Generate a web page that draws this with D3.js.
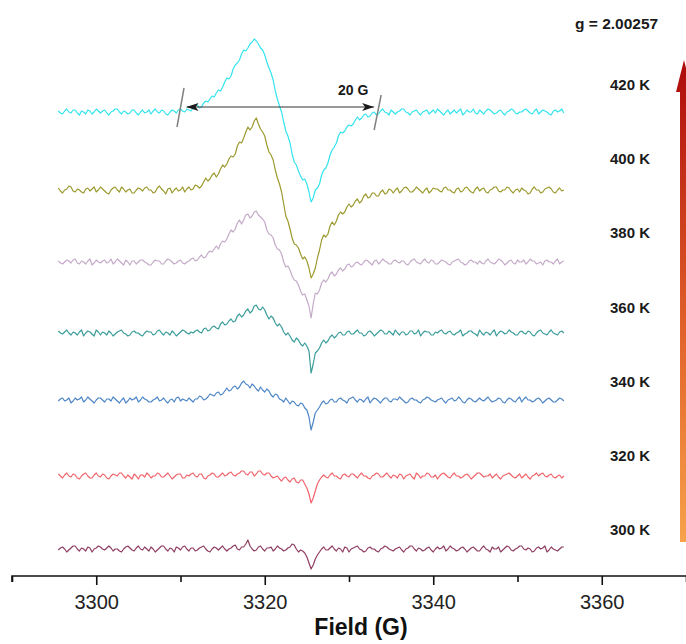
<!DOCTYPE html>
<html>
<head>
<meta charset="utf-8">
<script src="https://cdn.jsdelivr.net/npm/d3@7"></script>
<style>
  html, body { margin: 0; padding: 0; background: #fff; }
  svg { display: block; font-family: "Liberation Sans", Arial, Helvetica, sans-serif; }
</style>
</head>
<body>
<svg id="chart" width="686" height="644"></svg>
<script>
// ---- data -------------------------------------------------------------
// Temperatures of the recorded spectra (bottom to top)
const temperatures = ["300 K", "320 K", "340 K", "360 K", "380 K", "400 K", "420 K"];

// Vertical stacking offset of each spectrum (intensity units)
const offsets = [27, 100, 176, 243, 314, 386, 464];

// Field sweep: first field and field step (G)
const fieldStart = 3295.5;
const fieldStep = 0.25;

// First-derivative EPR signal of each temperature (intensity units),
// 20 samples (5 G) per row
const s300 = [
  -1,1,2,0,-3,-1,1,3,3,0,-2,1,0,-2,2,1,-3,0,1,3,
  2,0,-1,1,3,1,-2,0,0,-2,-3,0,2,3,1,-1,-2,1,3,0,
  -1,2,0,-2,2,0,-3,-1,1,3,3,0,-2,1,0,-3,2,1,-1,2,
  3,0,-2,1,1,-2,-1,1,2,3,0,-2,-3,0,2,1,-1,1,3,0,
  -2,0,1,3,4,0,-1,2,2,5,9,3,0,-2,-1,2,3,0,-2,1,
  1,2,-2,0,3,1,0,-2,-1,1,2,5,4,0,-3,-1,-2,-4,-8,-14,
  -20,-16,-10,-6,-3,0,2,-1,-1,1,3,0,-2,1,0,-3,2,1,-3,0,
  1,2,3,0,-1,-3,-2,1,2,0,0,-2,-3,0,1,3,2,0,-1,-2,
  0,1,2,-1,-3,0,1,3,3,0,-2,1,0,-2,-1,1,2,-1,-3,0,
  2,0,1,3,-2,0,3,1,0,-2,-1,1,2,0,-3,-1,1,2,0,-2,
  -2,1,3,0,-1,-3,2,0,0,2,-3,-1,1,3,2,-1,-2,0,1,3,
  3,0,-1,1,0,-3,-2,1,2,0,1,3,-3,-1,2,0,-1,-2,0,2,
  2
];
const s320 = [
  2,0,-2,1,3,0,-1,2,1,-2,-3,0,2,3,0,-2,-2,1,3,0,
  -1,2,1,-2,-3,0,2,1,0,3,3,0,-2,1,-1,-3,2,0,-3,1,
  1,-1,3,1,-2,0,0,3,2,-1,-1,1,3,0,-3,-1,1,2,2,-2,
  -2,1,0,2,3,0,-1,2,2,-2,-3,0,1,3,2,-1,-1,1,3,0,
  1,3,4,1,0,2,3,5,5,2,1,4,4,0,2,5,5,2,1,3,
  3,0,-2,-1,0,-3,-5,-2,-1,-4,-6,-3,-2,-6,-7,-4,-4,-8,-12,-18,
  -27,-22,-15,-8,-4,-1,1,-1,-2,1,3,0,0,-2,-3,1,2,0,-1,2,
  2,0,-2,1,3,0,0,-2,-3,0,1,3,2,-1,-1,1,3,0,-2,1,
  0,-2,2,1,-3,0,1,2,-1,-3,3,1,-2,0,0,3,2,-1,-1,1,
  -3,0,2,3,1,-1,-2,1,3,0,0,-2,-1,1,2,0,-3,-1,1,3,
  3,1,-1,0,0,2,-2,0,2,-1,-3,0,1,2,3,1,-1,-2,0,2,
  -2,0,2,-1,-3,0,1,3,0,2,3,0,-1,1,2,-1,-2,0,1,-2,
  0
];
const s340 = [
  -1,1,2,-1,0,2,-3,-1,2,0,1,3,-2,0,3,1,-1,-3,0,2,
  2,0,-2,1,1,-1,3,1,-1,-3,0,2,-3,-1,2,0,1,3,-2,0,
  3,1,0,-2,-2,0,1,3,-1,0,2,-1,-3,0,1,-2,2,3,-1,1,
  0,-1,2,0,-2,1,1,4,3,0,1,3,6,5,4,7,8,5,6,9,
  12,9,10,13,14,11,13,17,19,16,15,12,16,14,11,9,13,10,8,11,
  9,5,3,6,5,1,0,-2,2,-1,-4,-1,-2,-5,-6,-3,-4,-8,-10,-17,
  -30,-22,-13,-10,-7,-3,-1,-4,-3,0,1,-2,-2,1,2,0,-1,-3,1,2,
  3,0,-2,1,0,-2,1,3,-3,0,2,1,-1,-3,0,2,2,-1,-2,1,
  1,0,3,1,-1,-3,-2,1,2,0,0,-2,-3,0,1,3,2,0,-1,-2,
  0,1,2,-1,-3,0,1,2,-1,0,3,1,-2,-3,0,2,1,-1,-2,0,
  2,0,-1,1,3,0,-2,-1,0,2,1,-2,-3,0,2,1,-1,-2,1,3,
  -2,1,3,0,0,-2,-1,1,2,0,-3,-1,1,2,0,-2,-2,0,2,1,
  -1
];
const s360 = [
  2,0,-1,1,3,0,-2,1,0,-2,1,3,-3,0,2,1,-1,-3,3,1,
  -2,1,0,-2,2,0,-3,-1,1,2,3,0,-1,-3,-2,1,2,0,0,-2,
  -3,0,2,1,1,-2,-1,2,3,0,-2,1,0,-2,2,0,-3,-1,1,3,
  2,0,-1,1,0,2,3,1,0,4,5,2,3,6,7,5,4,9,11,8,
  9,12,14,11,12,17,19,16,18,22,24,20,22,27,28,24,23,26,23,18,
  14,17,15,10,7,9,6,1,-2,0,-3,-7,-9,-5,-7,-11,-13,-10,-13,-18,
  -40,-31,-20,-18,-15,-10,-7,-10,-8,-4,-2,-5,-3,0,1,-2,-2,1,2,-1,
  -1,1,3,0,0,-3,-2,1,2,0,-3,-1,1,3,2,-1,-1,2,0,-2,
  3,0,-2,1,1,-2,-1,2,2,-1,0,3,-3,0,2,1,1,-2,-2,1,
  0,2,3,0,-1,1,2,-1,-2,0,1,3,-3,-1,0,2,2,0,-1,-3,
  3,0,-2,1,0,-2,1,3,-3,0,2,1,-1,0,3,1,0,-2,-2,1,
  2,0,-1,2,1,-2,-3,0,2,3,0,-1,-2,1,3,0,-1,-2,1,2,
  0
];
const s380 = [
  1,-1,-2,0,2,1,-1,2,3,-1,-2,1,0,-2,1,3,-3,-1,2,0,
  -1,1,2,-1,0,3,-2,0,3,1,-1,-3,2,0,-3,1,1,-2,0,2,
  2,0,-1,-3,-3,0,2,1,1,-2,-2,1,3,2,0,-2,-1,1,2,-1,
  -2,0,1,3,4,1,2,5,7,4,5,9,11,10,13,16,13,18,21,20,
  23,28,32,30,33,39,42,38,42,47,48,44,46,50,51,47,45,43,40,32,
  28,27,24,17,13,12,8,0,-5,-4,-8,-14,-18,-19,-23,-29,-33,-32,-38,-44,
  -56,-42,-31,-32,-28,-21,-18,-20,-17,-12,-10,-14,-12,-8,-6,-9,-7,-3,-2,-5,
  -4,-1,0,-2,-3,0,2,1,-1,-3,1,2,-2,0,3,1,0,-2,-2,1,
  2,0,-1,1,1,-2,-3,0,2,3,0,-1,-2,1,3,0,-1,2,1,-2,
  -2,0,2,1,0,-2,-3,0,1,2,3,0,-1,-3,-2,1,2,0,0,-2,
  1,-1,-2,1,3,0,-1,-2,0,3,2,0,-3,-1,1,2,-1,-2,2,0,
  0,2,-2,0,3,1,1,-2,-1,0,-3,1,2,0,0,-2,1,3,-2,0,
  1
];
const s400 = [
  2,-1,-3,0,1,4,3,-1,-2,1,0,-2,-3,1,2,-1,1,3,-2,0,
  3,1,-1,-3,-4,0,2,3,0,-2,3,1,-2,0,1,-3,-3,0,2,1,
  -1,2,3,0,0,-3,-2,2,4,1,-1,-4,1,2,-3,0,2,-1,0,3,
  -2,1,3,0,1,5,4,2,4,8,12,9,11,15,17,13,16,21,25,23,
  26,31,34,33,36,44,48,47,52,58,63,60,63,69,72,66,61,58,54,45,
  38,35,30,20,12,6,-2,-14,-26,-31,-39,-48,-54,-55,-58,-64,-69,-67,-71,-78,
  -88,-84,-78,-68,-60,-50,-45,-47,-44,-36,-32,-35,-31,-25,-22,-24,-22,-17,-14,-17,
  -15,-11,-9,-13,-11,-6,-4,-8,-7,-3,-3,-6,-6,-2,0,-4,-3,1,0,-3,
  0,2,-3,-1,2,3,1,-2,-2,0,3,1,-1,-3,0,2,-3,-1,2,1,
  1,-1,-2,2,3,0,0,-2,-3,1,2,-2,-1,2,3,0,-2,-3,1,3,
  -1,1,2,-2,-3,0,1,3,3,-1,-2,0,0,3,2,-1,-3,0,1,-2,
  2,0,-1,-4,-3,1,3,0,0,-3,-2,1,2,3,1,-2,-3,0,2,-1,
  0
];
const s420 = [
  1,-1,-2,1,3,0,-1,2,2,-1,-3,1,0,-2,2,1,-2,0,3,1,
  -1,1,2,-1,-3,0,1,3,3,0,-2,1,0,-2,-1,2,2,-1,-3,0,
  2,-1,0,2,-2,1,3,0,-1,2,1,-2,-3,0,2,1,-1,2,3,1,
  0,3,2,1,4,6,7,4,5,9,11,10,13,16,15,19,22,21,25,30,
  34,33,36,43,47,49,52,58,62,61,64,68,70,73,71,68,64,62,57,50,
  44,39,32,21,13,6,0,-10,-19,-24,-31,-42,-50,-53,-59,-64,-68,-67,-72,-80,
  -90,-86,-78,-76,-72,-63,-58,-56,-51,-43,-38,-35,-31,-24,-20,-21,-19,-15,-13,-14,
  -12,-8,-5,-8,-6,-3,-2,-5,-4,-1,0,-3,-2,1,3,0,-1,-3,2,0,
  -2,0,1,3,3,0,-1,-3,0,1,2,-1,-3,0,1,2,-2,0,2,-1,
  3,1,-1,-3,0,2,-2,0,2,-1,1,3,-3,-1,2,0,0,3,-1,-2,
  2,0,-2,1,3,2,0,-2,-1,1,2,-1,-3,0,1,3,2,-1,-2,0,
  0,2,3,1,-1,-2,1,3,-2,0,2,1,0,-2,-3,1,2,0,1,3,
  -1
];
const spectra = [s300, s320, s340, s360, s380, s400, s420];

// Axis ticks (G)
const majorTicks = [3300, 3320, 3340, 3360];
const minorTicks = [3290, 3310, 3330, 3350, 3370];

// Annotations
const gValueLabel = "g = 2.00257";
const widthLabel = "20 G";
const widthFields = [3310.6, 3333.1];   // ends of the line-width marker (G)
const widthLevel = 469;                  // intensity level of the marker
const axisTitle = "Field (G)";

// ---- styles -----------------------------------------------------------
const traceColors = ["#8e3e62", "#f0646c", "#4d86c6", "#3a9d9a", "#c4aac8", "#9c9a2e", "#33e3ee"];

// ---- drawing ----------------------------------------------------------
const svg = d3.select("#chart");
const axisY = 576;

const x = d3.scaleLinear().domain([3290, 3370]).range([12, 686]);
const y = d3.scaleLinear().domain([0, 576]).range([576, 0]);

// spectra
const plot = svg.append("g");
spectra.forEach((vals, k) => {
  const line = d3.line()
    .x((d, i) => x(fieldStart + i * fieldStep))
    .y(d => y(offsets[k] + d));
  plot.append("path")
    .datum(vals)
    .attr("d", line)
    .attr("fill", "none")
    .attr("stroke", traceColors[k])
    .attr("stroke-width", 1.2)
    .attr("stroke-linejoin", "round");
});

// x axis: major ticks with labels
const axisMajor = d3.axisBottom(x)
  .tickValues(majorTicks)
  .tickSize(9)
  .tickPadding(10)
  .tickFormat(d3.format("d"));
const gMajor = svg.append("g").attr("transform", `translate(0,${axisY})`).call(axisMajor);
gMajor.select(".domain").attr("stroke", "#111").attr("stroke-width", 1.6)
  .attr("d", `M${x(3290)},6V0H${x(3370)}`);
gMajor.selectAll(".tick line").attr("stroke", "#111").attr("stroke-width", 1.6);
gMajor.selectAll(".tick text")
  .attr("fill", "#222")
  .style("font-size", "20px")
  .style("font-family", '"Liberation Sans", Arial, sans-serif');

// x axis: minor ticks
const axisMinor = d3.axisBottom(x).tickValues(minorTicks).tickSize(6).tickFormat("");
const gMinor = svg.append("g").attr("transform", `translate(0,${axisY})`).call(axisMinor);
gMinor.select(".domain").remove();
gMinor.selectAll(".tick line").attr("stroke", "#111").attr("stroke-width", 1.6);

// axis title
svg.append("text")
  .attr("x", 361).attr("y", 635)
  .attr("text-anchor", "middle")
  .style("font-size", "23px").style("font-weight", "bold")
  .attr("fill", "#111")
  .text(axisTitle);

// temperature labels
const labelY = d3.scalePoint().domain(temperatures).range([530, 85]);
svg.append("g").selectAll("text")
  .data(temperatures)
  .join("text")
  .attr("x", 610)
  .attr("y", d => labelY(d) + 5)
  .style("font-size", "15px").style("font-weight", "bold")
  .attr("fill", "#1a1a1a")
  .text(d => d);

// g value
svg.append("text")
  .attr("x", 575).attr("y", 29)
  .style("font-size", "15.5px").style("font-weight", "bold")
  .attr("fill", "#1a1a1a")
  .text(gValueLabel);

// temperature arrow with gradient
const defs = svg.append("defs");
const grad = defs.append("linearGradient")
  .attr("id", "tempGrad")
  .attr("x1", 0).attr("y1", 1).attr("x2", 0).attr("y2", 0);
grad.append("stop").attr("offset", "0%").attr("stop-color", "#f7a24a");
grad.append("stop").attr("offset", "45%").attr("stop-color", "#e0602a");
grad.append("stop").attr("offset", "100%").attr("stop-color", "#ad0a0a");
const ax = 684;
svg.append("path")
  .attr("d", `M${ax},60 L${ax + 8},92 L${ax + 4},92 L${ax + 4},542 L${ax - 4},542 L${ax - 4},92 L${ax - 8},92 Z`)
  .attr("fill", "url(#tempGrad)")
  .attr("stroke", "none");

// line-width marker (double-headed arrow between two slashes)
arrowMarker("arrEnd", "auto");
arrowMarker("arrStart", "auto-start-reverse");
function arrowMarker(id, orient) {
  defs.append("marker")
    .attr("id", id)
    .attr("viewBox", "0 0 12 8")
    .attr("refX", 12).attr("refY", 4)
    .attr("markerWidth", 12).attr("markerHeight", 8)
    .attr("markerUnits", "userSpaceOnUse")
    .attr("orient", orient)
    .append("path")
    .attr("d", "M0,0 L12,4 L0,8 L3,4 Z")
    .attr("fill", "#1a1a1a");
}
const yW = y(widthLevel);
svg.append("line")
  .attr("x1", x(widthFields[0]) + 1).attr("x2", x(widthFields[1]) - 1)
  .attr("y1", yW).attr("y2", yW)
  .attr("stroke", "#333").attr("stroke-width", 1.1)
  .attr("marker-start", "url(#arrStart)")
  .attr("marker-end", "url(#arrEnd)");
const slashes = [
  { f: widthFields[0] - 0.6, top: -19, bot: 20 },
  { f: widthFields[1] + 0.3, top: -12, bot: 23 }
];
svg.append("g").selectAll("line")
  .data(slashes)
  .join("line")
  .attr("x1", d => x(d.f) + 3.5).attr("y1", d => yW + d.top)
  .attr("x2", d => x(d.f) - 3.5).attr("y2", d => yW + d.bot)
  .attr("stroke", "#808080").attr("stroke-width", 1.5);
svg.append("text")
  .attr("x", 338).attr("y", 95)
  .style("font-size", "14px").style("font-weight", "bold")
  .attr("fill", "#1a1a1a")
  .text(widthLabel);
</script>
</body>
</html>
